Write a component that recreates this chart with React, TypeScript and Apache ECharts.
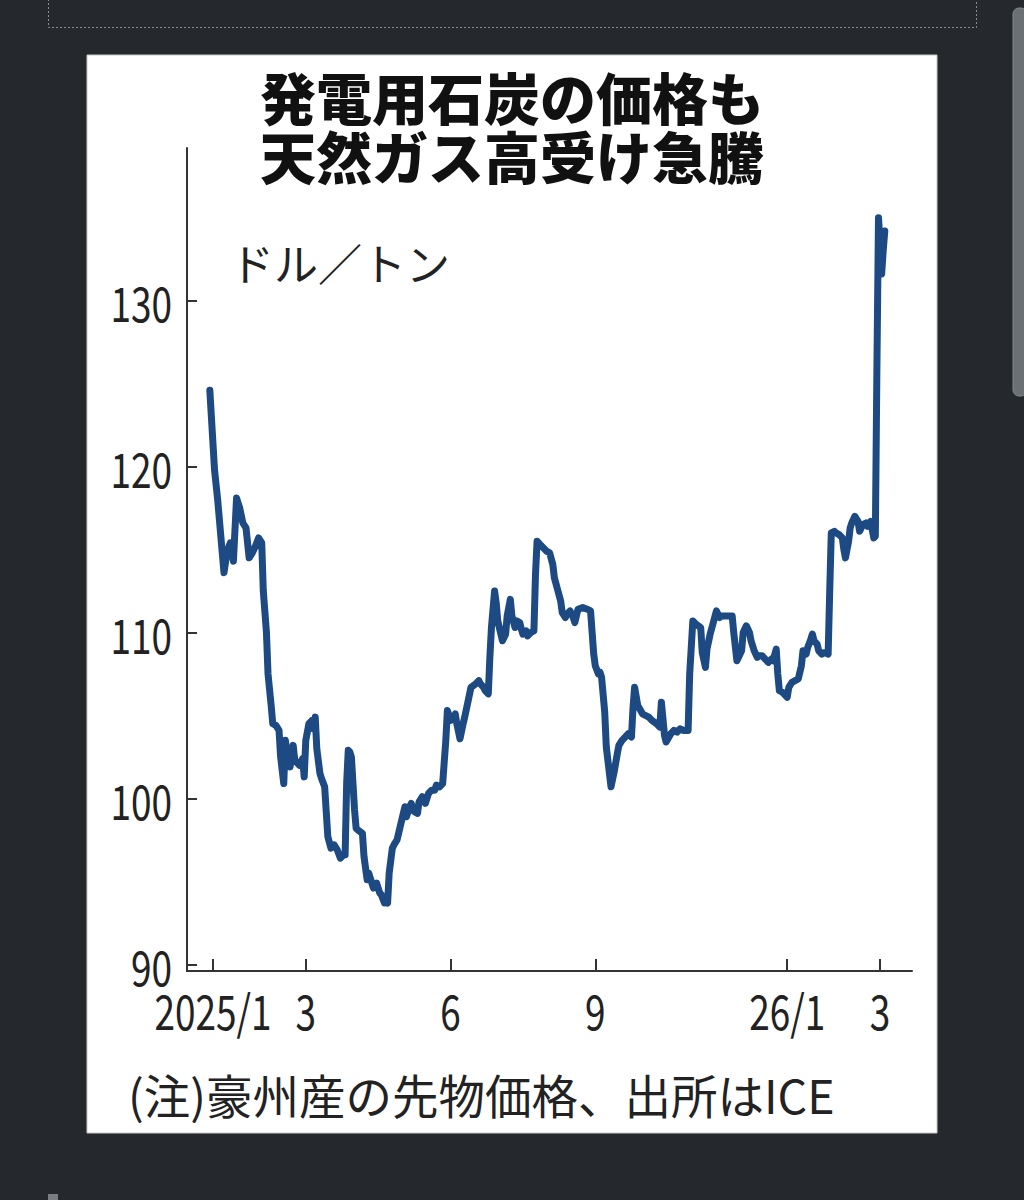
import React, { useEffect, useRef } from "react";
import * as echarts from "echarts";

const titleLines = ["発電用石炭の価格も", "天然ガス高受け急騰"];
const unitLabel = "ドル／トン";
const footnote = "(注)豪州産の先物価格、出所はICE";

const yTicks = [90, 100, 110, 120, 130];
const xTickDates = ["2025-01-01", "2025-03-01", "2025-06-01", "2025-09-01", "2026-01-01", "2026-03-01"];
const xTickLabels = ["2025/1", "3", "6", "9", "26/1", "3"];

const dates = [
  "2024-12-30", "2025-01-02", "2025-01-04", "2025-01-08", "2025-01-10", "2025-01-12", "2025-01-14", "2025-01-16",
  "2025-01-18", "2025-01-20", "2025-01-22", "2025-01-24", "2025-01-26", "2025-01-28", "2025-01-30", "2025-02-01",
  "2025-02-02", "2025-02-04", "2025-02-05", "2025-02-07", "2025-02-08", "2025-02-10", "2025-02-12", "2025-02-13",
  "2025-02-15", "2025-02-16", "2025-02-18", "2025-02-19", "2025-02-21", "2025-02-22", "2025-02-24", "2025-02-25",
  "2025-02-27", "2025-02-28", "2025-03-01", "2025-03-03", "2025-03-05", "2025-03-06", "2025-03-07", "2025-03-08",
  "2025-03-10", "2025-03-11", "2025-03-13", "2025-03-14", "2025-03-15", "2025-03-17", "2025-03-19", "2025-03-21",
  "2025-03-23", "2025-03-25", "2025-03-26", "2025-03-27", "2025-03-28", "2025-03-29", "2025-03-30", "2025-04-01",
  "2025-04-02", "2025-04-03", "2025-04-06", "2025-04-07", "2025-04-09", "2025-04-10", "2025-04-11", "2025-04-13",
  "2025-04-15", "2025-04-17", "2025-04-18", "2025-04-20", "2025-04-21", "2025-04-22", "2025-04-23", "2025-04-25",
  "2025-04-26", "2025-04-28", "2025-04-30", "2025-05-02", "2025-05-03", "2025-05-04", "2025-05-06", "2025-05-07",
  "2025-05-09", "2025-05-11", "2025-05-12", "2025-05-14", "2025-05-16", "2025-05-18", "2025-05-20", "2025-05-22",
  "2025-05-23", "2025-05-25", "2025-05-27", "2025-05-29", "2025-05-30", "2025-06-01", "2025-06-03", "2025-06-04",
  "2025-06-05", "2025-06-07", "2025-06-09", "2025-06-10", "2025-06-12", "2025-06-14", "2025-06-17", "2025-06-19",
  "2025-06-20", "2025-06-22", "2025-06-23", "2025-06-25", "2025-06-26", "2025-06-27", "2025-06-29", "2025-06-30",
  "2025-07-01", "2025-07-04", "2025-07-06", "2025-07-07", "2025-07-09", "2025-07-10", "2025-07-12", "2025-07-13",
  "2025-07-15", "2025-07-16", "2025-07-17", "2025-07-19", "2025-07-20", "2025-07-22", "2025-07-24", "2025-07-25",
  "2025-07-26", "2025-07-28", "2025-07-30", "2025-08-01", "2025-08-03", "2025-08-05", "2025-08-06", "2025-08-08",
  "2025-08-10", "2025-08-11", "2025-08-13", "2025-08-14", "2025-08-16", "2025-08-18", "2025-08-19", "2025-08-21",
  "2025-08-24", "2025-08-27", "2025-08-29", "2025-08-31", "2025-09-01", "2025-09-03", "2025-09-04", "2025-09-05",
  "2025-09-07", "2025-09-08", "2025-09-10", "2025-09-11", "2025-09-13", "2025-09-15", "2025-09-16", "2025-09-18",
  "2025-09-20", "2025-09-22", "2025-09-24", "2025-09-25", "2025-09-26", "2025-09-28", "2025-10-01", "2025-10-03",
  "2025-10-05", "2025-10-07", "2025-10-10", "2025-10-12", "2025-10-13", "2025-10-15", "2025-10-16", "2025-10-19",
  "2025-10-21", "2025-10-23", "2025-10-25", "2025-10-27", "2025-10-30", "2025-10-31", "2025-11-02", "2025-11-04",
  "2025-11-07", "2025-11-08", "2025-11-10", "2025-11-11", "2025-11-13", "2025-11-15", "2025-11-17", "2025-11-19",
  "2025-11-20", "2025-11-23", "2025-11-27", "2025-11-28", "2025-11-30", "2025-12-01", "2025-12-03", "2025-12-04",
  "2025-12-06", "2025-12-08", "2025-12-09", "2025-12-11", "2025-12-13", "2025-12-14", "2025-12-16", "2025-12-18",
  "2025-12-20", "2025-12-22", "2025-12-23", "2025-12-25", "2025-12-26", "2025-12-27", "2025-12-29", "2026-01-01",
  "2026-01-02", "2026-01-04", "2026-01-06", "2026-01-08", "2026-01-10", "2026-01-11", "2026-01-13", "2026-01-14",
  "2026-01-16", "2026-01-17", "2026-01-18", "2026-01-20", "2026-01-21", "2026-01-23", "2026-01-25", "2026-01-27",
  "2026-01-28", "2026-01-29", "2026-01-31", "2026-02-01", "2026-02-03", "2026-02-05", "2026-02-06", "2026-02-07",
  "2026-02-09", "2026-02-10", "2026-02-11", "2026-02-13", "2026-02-15", "2026-02-16", "2026-02-18", "2026-02-20",
  "2026-02-21", "2026-02-23", "2026-02-24", "2026-02-25", "2026-02-26", "2026-02-27", "2026-02-28", "2026-03-01",
  "2026-03-02", "2026-03-03", "2026-03-04",
];

const prices = [
  124.6, 119.8, 118.0, 113.6, 114.9, 115.4, 114.3, 118.1,
  117.5, 116.6, 116.3, 114.5, 114.8, 115.2, 115.7, 115.4,
  112.5, 110.0, 107.5, 105.6, 104.5, 104.4, 104.1, 102.5,
  100.9, 103.5, 102.3, 101.9, 103.2, 102.3, 102.1, 102.0,
  102.4, 101.3, 103.5, 104.5, 104.7, 104.2, 104.9, 103.0,
  101.5, 101.2, 100.7, 99.2, 97.7, 97.0, 97.2, 96.9,
  96.4, 96.6, 96.6, 101.0, 102.9, 102.8, 102.5, 99.3,
  98.2, 98.1, 97.9, 96.5, 95.1, 95.5, 95.2, 94.6,
  94.9, 94.3, 94.2, 93.7, 93.8, 93.7, 95.5, 97.0,
  97.2, 97.5, 98.3, 99.1, 99.5, 98.9, 99.5, 99.7,
  99.2, 99.1, 99.8, 100.1, 99.7, 100.3, 100.5, 100.5,
  100.8, 100.7, 100.9, 103.5, 105.3, 104.7, 104.8, 105.1,
  104.5, 103.6, 104.5, 104.9, 105.8, 106.7, 106.9, 107.1,
  106.9, 106.7, 106.5, 106.3, 108.5, 110.3, 112.5, 111.8,
  110.7, 109.5, 109.9, 111.0, 112.0, 111.0, 110.3, 110.7,
  110.6, 110.2, 109.9, 110.1, 109.8, 110.0, 110.1, 113.5,
  115.5, 115.3, 115.1, 114.9, 114.8, 114.1, 113.3, 112.6,
  111.9, 111.2, 110.9, 111.1, 111.3, 110.9, 110.6, 111.4,
  111.5, 111.4, 111.3, 108.7, 108.0, 107.5, 107.6, 107.3,
  105.2, 103.1, 101.5, 100.7, 101.6, 102.7, 103.2, 103.5,
  103.7, 103.9, 103.7, 105.5, 106.7, 105.6, 105.1, 105.0,
  104.9, 104.7, 104.5, 104.3, 105.8, 103.8, 103.4, 103.9,
  104.1, 104.0, 104.2, 104.1, 104.1, 107.5, 110.7, 110.5,
  110.3, 108.8, 107.9, 109.0, 109.9, 110.6, 111.3, 110.9,
  111.0, 111.0, 111.0, 110.0, 108.3, 108.5, 108.9, 110.0,
  110.4, 110.0, 109.5, 108.9, 108.5, 108.6, 108.6, 108.4,
  108.2, 108.4, 108.3, 109.0, 107.5, 106.5, 106.4, 106.1,
  106.7, 107.0, 107.1, 107.2, 108.0, 108.9, 108.7, 109.1,
  109.6, 109.9, 109.5, 109.3, 108.9, 108.7, 108.8, 108.7,
  112.5, 116.0, 116.1, 116.0, 115.9, 115.7, 115.0, 114.5,
  115.5, 116.3, 116.6, 117.0, 116.7, 116.1, 116.5, 116.6,
  116.4, 116.7, 116.2, 115.7, 115.8, 126.0, 135.0, 133.5,
  131.6, 133.0, 134.2,
];

const DAY = 86400000;
const toTs = (s: string) => {
  const [y, m, d] = s.split("-").map(Number);
  return Date.UTC(y, m - 1, d);
};

const JP_FONT = "'Noto Sans CJK JP', 'Noto Sans', sans-serif";
const NUM_FONT = "'Noto Sans CJK JP', 'Roboto', sans-serif";
const NUM_SIZE = 48;
const NUM_SCALE_X = 0.77;

export default function App() {
  const ref = useRef<HTMLDivElement>(null);

  useEffect(() => {
    if (!ref.current) return;
    const chart = echarts.init(ref.current, undefined, { renderer: "svg", width: 1024, height: 1200 });
    const base = toTs("2025-01-01");
    const tickTs = xTickDates.map(toTs);

    chart.setOption({
      animation: false,
      backgroundColor: "#25292d",
      grid: { left: 187, right: 112, top: 148, bottom: 229, containLabel: false },
      xAxis: {
        type: "value",
        min: base - 16.5 * DAY,
        max: base + 444.3 * DAY,
        splitLine: { show: false },
        axisLine: { show: true, lineStyle: { color: "#333", width: 2 } },
        axisTick: { show: true, inside: true, length: 12, customValues: tickTs, lineStyle: { color: "#333", width: 2 } },
        axisLabel: { show: false },
      },
      yAxis: {
        type: "value",
        min: 89.6,
        max: 139.2,
        splitLine: { show: false },
        axisLine: { show: true, lineStyle: { color: "#333", width: 2 } },
        axisTick: { show: true, inside: true, length: 10, customValues: yTicks, lineStyle: { color: "#333", width: 2 } },
        axisLabel: { show: false },
      },
      series: [
        {
          type: "line",
          data: dates.map((d, i) => [toTs(d), prices[i]]),
          showSymbol: false,
          symbol: "none",
          lineStyle: { color: "#1d4a82", width: 7, cap: "round", join: "round" },
          z: 5,
        },
      ],
    });

    // Tick labels placed through the axes' own scales (narrow, condensed look)
    const axisX = chart.convertToPixel({ xAxisIndex: 0 }, base - 16.5 * DAY) as number;
    const axisY = chart.convertToPixel({ yAxisIndex: 0 }, 89.6) as number;
    const xLabelEls = tickTs.map((t, i) => ({
      type: "text",
      z: 50,
      x: chart.convertToPixel({ xAxisIndex: 0 }, t) as number,
      y: axisY + 38,
      scaleX: NUM_SCALE_X,
      style: { text: xTickLabels[i], fill: "#222", font: `${NUM_SIZE}px ${NUM_FONT}`, textAlign: "center", textVerticalAlign: "middle" },
    }));
    const yLabelEls = yTicks.map((v) => ({
      type: "text",
      z: 50,
      x: axisX - 15,
      y: chart.convertToPixel({ yAxisIndex: 0 }, v) as number,
      scaleX: NUM_SCALE_X,
      style: { text: String(v), fill: "#222", font: `${NUM_SIZE}px ${NUM_FONT}`, textAlign: "right", textVerticalAlign: "middle" },
    }));

    chart.setOption({
      graphic: [
        { type: "rect", z: -20, shape: { x: 87, y: 55, width: 850, height: 1078 }, style: { fill: "#ffffff", stroke: "#c8c8c8", lineWidth: 1 } },
        { type: "rect", z: -20, shape: { x: 48.5, y: -10, width: 928, height: 37.5 }, style: { fill: "none", stroke: "#8a8d90", lineWidth: 1, lineDash: [2, 2] } },
        { type: "rect", z: -20, shape: { x: 1013, y: 8, width: 14, height: 388, r: 6 }, style: { fill: "#6b7075", stroke: "#85898d", lineWidth: 1 } },
        { type: "rect", z: -20, shape: { x: 48, y: 1194, width: 10, height: 8 }, style: { fill: "#7c7f82" } },
        {
          type: "text", z: 50, x: 512, y: 125,
          style: {
            text: titleLines.join("\n"),
            fill: "#111",
            font: `900 56px ${JP_FONT}`,
            lineHeight: 59,
            textAlign: "center",
            textVerticalAlign: "middle",
          },
        },
        {
          type: "text", z: 50, x: 230, y: 262,
          style: { text: unitLabel, fill: "#222", font: `44px ${JP_FONT}`, textAlign: "left", textVerticalAlign: "middle" },
        },
        {
          type: "text", z: 50, x: 128, y: 1093,
          style: { text: footnote, fill: "#222", font: `46.5px ${JP_FONT}`, textAlign: "left", textVerticalAlign: "middle" },
        },
        ...xLabelEls,
        ...yLabelEls,
      ],
    });
    return () => chart.dispose();
  }, []);

  return <div ref={ref} style={{ position: "fixed", left: 0, top: 0, width: 1024, height: 1200 }} />;
}
